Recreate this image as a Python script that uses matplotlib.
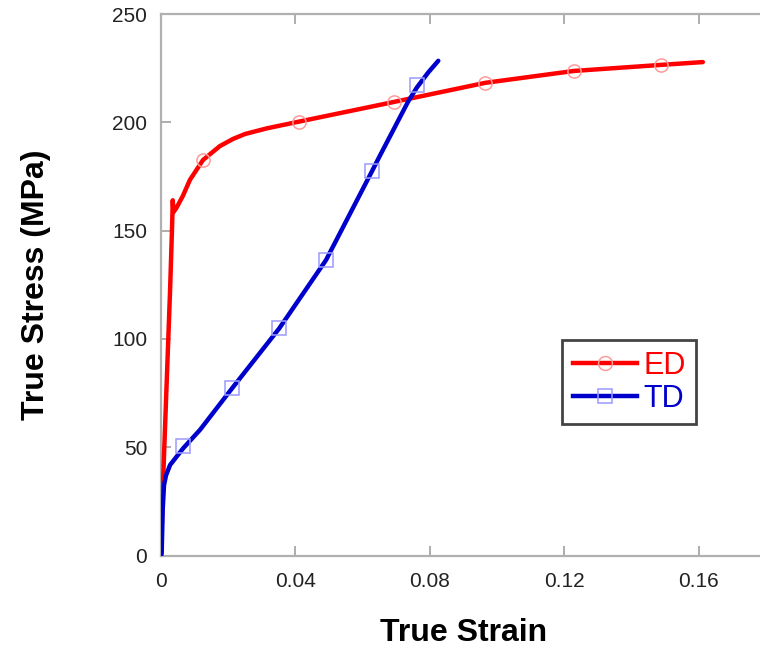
# encoding="utf-8"
# True stress - true strain curves, ED vs TD

import matplotlib.pyplot as plt
from matplotlib.lines import Line2D

# ED curve
ed_strain = [0, 0.0006, 0.0015, 0.0027, 0.0033, 0.0035, 0.0037, 0.0046, 0.0065, 0.0086,
             0.0125, 0.0175, 0.0214, 0.0250, 0.0315, 0.041, 0.0693, 0.0964, 0.1228, 0.1487, 0.1612]
ed_stress = [0, 33.5, 71.8, 122.5, 152, 164, 158.5, 160.5, 166, 173.4,
             182.6, 189.0, 192.3, 194.6, 197.2, 200.3, 209.4, 218.2, 223.7, 226.5, 227.8]

# TD curve
td_strain = [0, 0.0002, 0.0005, 0.0009, 0.0015, 0.0027, 0.0066, 0.0116, 0.0212,
             0.0352, 0.0491, 0.0628, 0.0651, 0.0735, 0.0761, 0.0795, 0.0825]
td_stress = [0, 1.0, 21, 32.5, 37, 41.8, 49.5, 58.0, 77.3,
             104.9, 136.4, 177.5, 184.5, 209.5, 216.0, 223.0, 228.4]

# marker positions
ed_mk_strain = [0.0125, 0.041, 0.0693, 0.0964, 0.1228, 0.1487]
ed_mk_stress = [182.6, 200.0, 209.4, 218.2, 223.7, 226.5]
td_mk_strain = [0.0066, 0.0212, 0.0352, 0.0491, 0.0628, 0.0761]
td_mk_stress = [50.6, 77.3, 104.9, 136.4, 177.5, 217.2]

x_ticks = [0, 0.04, 0.08, 0.12, 0.16]
x_tick_labels = ["0", "0.04", "0.08", "0.12", "0.16"]
y_ticks = [0, 50, 100, 150, 200, 250]

red = "#ff0000"
blue = "#0000cc"
red_light = "#ff9a9a"
blue_light = "#9a9aff"

plt.rcParams['font.family'] = ['Liberation Sans', 'DejaVu Sans']

fig = plt.figure(figsize=(7.6, 6.51), dpi=100)
ax = fig.add_axes([161 / 760, 1 - 555.5 / 651, 605 / 760, 541.5 / 651])

# lines
ax.plot(ed_strain, ed_stress, color=red, lw=3.2, solid_capstyle="round",
        solid_joinstyle="round", zorder=3)
ax.plot(ed_mk_strain, ed_mk_stress, ls="none", marker="o", ms=9.5, mfc="none",
        mec=red_light, mew=1.1, zorder=4)
ax.plot(td_strain, td_stress, color=blue, lw=3.2, solid_capstyle="round",
        solid_joinstyle="round", zorder=5)
ax.plot(td_mk_strain, td_mk_stress, ls="none", marker="s", ms=9.5, mfc="none",
        mec=blue_light, mew=1.1, zorder=6)

ax.set_xlim(0, 0.18)
ax.set_ylim(0, 250)
ax.set_xticks(x_ticks)
ax.set_xticklabels(x_tick_labels)
ax.set_yticks(y_ticks)

# spines / ticks
for s in ["left", "top", "bottom"]:
    ax.spines[s].set_color("#b0b0b0")
    ax.spines[s].set_linewidth(1.6)
ax.spines["right"].set_visible(False)
ax.tick_params(axis="both", direction="in", length=7, width=1.2, color="#a0a0a0",
               labelsize=15, labelcolor="#222222")
ax.tick_params(axis="x", top=True, pad=12)
ax.tick_params(axis="y", pad=10)

ax.set_xlabel("True Strain", fontsize=23, fontweight="bold", labelpad=19)
ax.set_ylabel("True Stress (MPa)", fontsize=23, fontweight="bold", labelpad=44)

# legend
handles = [
    Line2D([0], [0], color=red, lw=3.2, marker="o", ms=10, mfc="none", mec=red_light, mew=1.1),
    Line2D([0], [0], color=blue, lw=3.2, marker="s", ms=10, mfc="none", mec=blue_light, mew=1.1),
]
leg = ax.legend(handles, ["ED", "TD"], loc="upper left", bbox_to_anchor=(0.663, 0.398),
                borderaxespad=0, fontsize=22, handlelength=2.1, handletextpad=0.2,
                labelspacing=0.1, borderpad=0.35, fancybox=False, framealpha=1)
leg.get_frame().set_edgecolor("#444444")
leg.get_frame().set_linewidth(2)
leg.get_texts()[0].set_color(red)
leg.get_texts()[1].set_color(blue)

fig.savefig("out.png", dpi=100)
